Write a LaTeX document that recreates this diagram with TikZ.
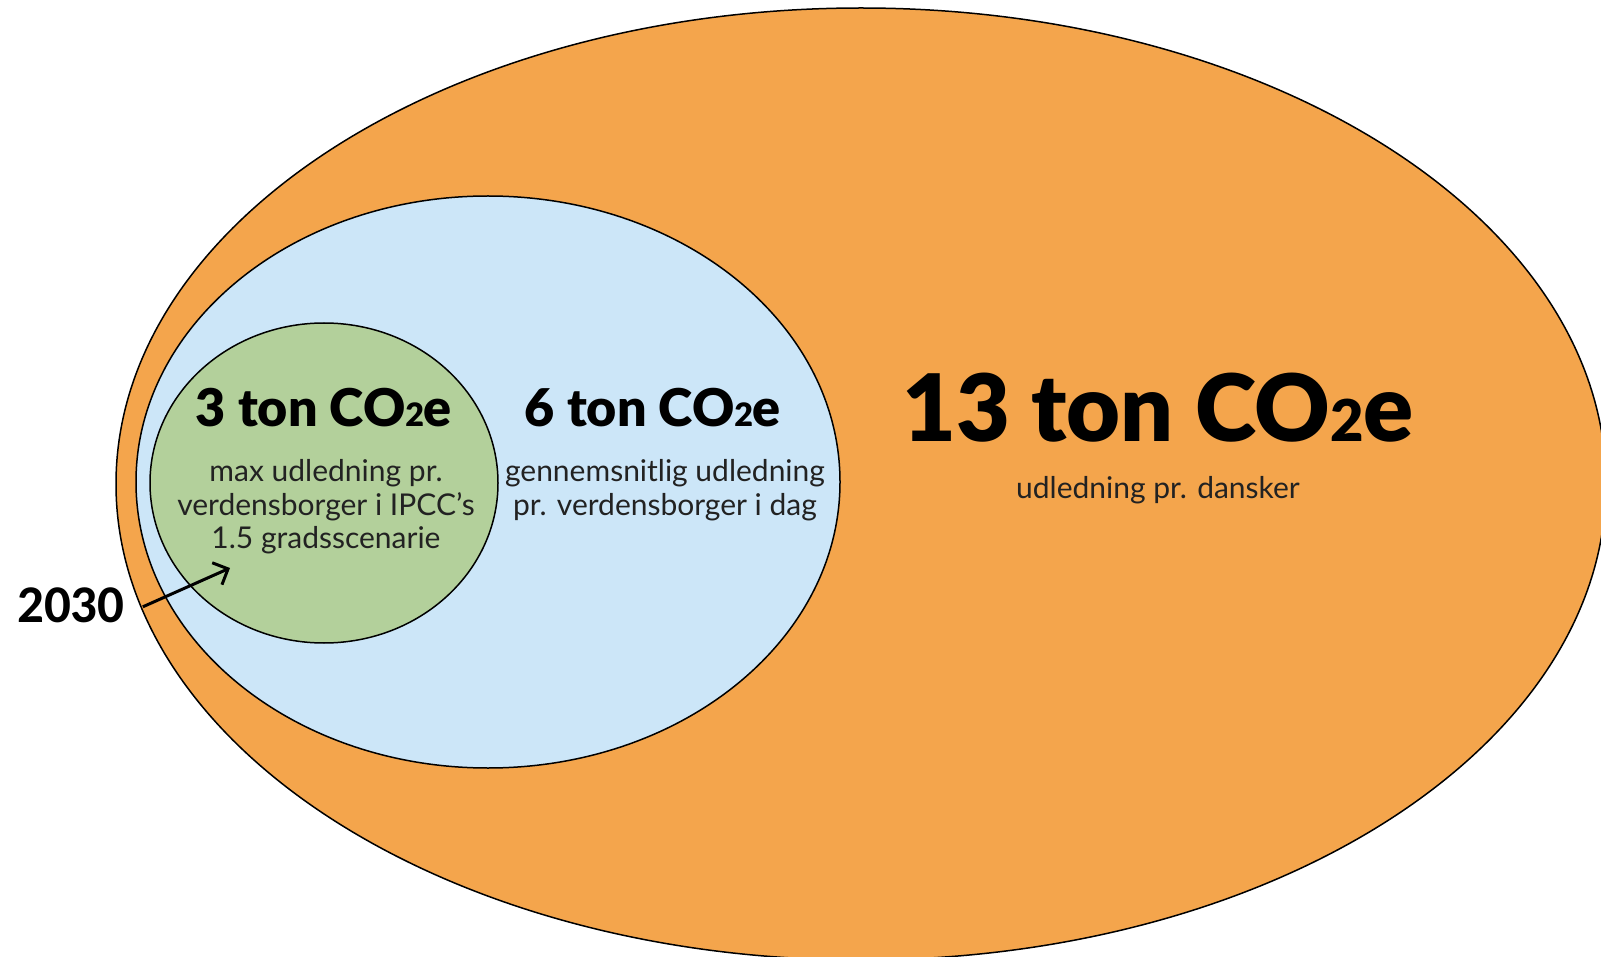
\documentclass[tikz,border=0pt]{standalone}
\usepackage{fontspec}
\setmainfont{Lato}
\newfontfamily\headfont{Lato Black}
\newfontfamily\yearfont{Carlito}
\usetikzlibrary{arrows.meta}
\definecolor{orangefill}{HTML}{F4A54C}
\definecolor{bluefill}{HTML}{CCE6F8}
\definecolor{greenfill}{HTML}{B3D09B}
\definecolor{bodytext}{HTML}{222222}
\newcommand{\COtwoE}{CO\scalebox{0.62}{2}e}
\begin{document}
\begin{tikzpicture}[x=1pt,y=-1pt,
  blob/.style={draw=black, line width=1.5pt},
  headsmall/.style={font=\headfont\fontsize{52}{60}\selectfont, anchor=base, inner sep=0pt},
  headbig/.style={font=\headfont\fontsize{93}{110}\selectfont, anchor=base, inner sep=0pt},
  body/.style={font=\fontsize{30}{33.5}\selectfont, align=center, inner sep=0pt, text=bodytext}]
\useasboundingbox (0,0) rectangle (1601,957);
\clip (0,0) rectangle (1601,957);
\fill[white] (0,0) rectangle (1601,957);
\draw[blob, fill=orangefill] (861,484) ellipse [x radius=745, y radius=476];
\draw[blob, fill=bluefill] (488,482) ellipse [x radius=352, y radius=286];
\draw[blob, fill=greenfill] (324,483) ellipse [x radius=174, y radius=160];

\node[headsmall] (h3) at (324,427) {3 ton \COtwoE};
\node[body] (t3) at (326,507) {max udledning pr.\\verdensborger i IPCC’s\\1.5 gradsscenarie};

\node[headsmall] (h6) at (653,427) {6 ton \COtwoE};
\node[body] (t6) at (665,490) {gennemsnitlig udledning\\pr. verdensborger i dag};

\node[headbig] (h13) at (1158,442) {13 ton \COtwoE};
\node[body, anchor=base] (t13) at (1158,498) {udledning pr. dansker};

\node[font=\yearfont\bfseries\fontsize{53}{60}\selectfont, inner sep=0pt, anchor=base west] (y2030) at (17,622) {2030};
\coordinate (arrE) at (230,568);
\draw[line width=3pt, -{Straight Barb[length=12pt,width=24pt]}] ([xshift=18pt,yshift=-2pt]y2030.east) -- (arrE);
\end{tikzpicture}
\end{document}
